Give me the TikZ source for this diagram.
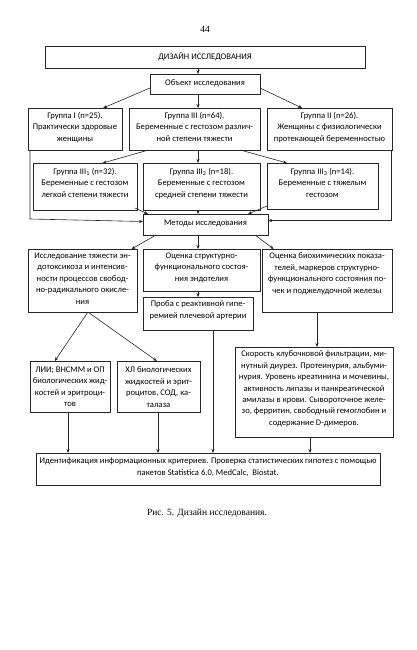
\documentclass[tikz,border=0pt]{standalone}
\usepackage{fontspec}
\setmainfont{Carlito}
\newfontfamily\timesf{Liberation Serif}
\usetikzlibrary{arrows.meta,calc}
\tikzset{
  box/.style={draw=black!85,line width=0.6pt,inner sep=0pt,outer sep=0pt,fill=white},
  txt/.style={inner sep=0pt,outer sep=0pt,align=center,text=black,font=\fontsize{8.6}{11.4}\selectfont},
  arr/.style={draw=black!85,line width=0.6pt,-{Stealth[length=4pt,width=3.2pt]}},
  serift/.style={inner sep=0pt,text=black,font=\timesf\fontsize{9.5}{11}\selectfont}
}
\newcommand\mkbox[7]{%
  \pgfmathsetmacro\bw{#4-#2}\pgfmathsetmacro\bh{#5-#3}%
  \node[box,minimum width=\bw pt,minimum height=\bh pt,anchor=north west] (#1) at (#2,#3) {};
  \node[txt,anchor=north] (#1-txt) at ([yshift=-#6pt]#1.north) {#7};}
\begin{document}
\begin{tikzpicture}[x=1pt,y=-1pt]
\useasboundingbox (0,0) rectangle (417,650);
\node[serift] (pg) at (205,29) {44};
\mkbox{title}{45}{46}{365}{68}{7}{ДИЗАЙН ИССЛЕДОВАНИЯ}
\mkbox{obj}{150}{74}{260}{94}{6}{Объект исследования}
\mkbox{ga}{28}{108}{122}{150}{4}{Группа I (n=25).\\Практически здоровые\\женщины}
\mkbox{gc}{129}{108}{260}{150}{4}{Группа III (n=64).\\Беременные с гестозом различ-\\ной степени тяжести}
\mkbox{gb}{267}{108}{392}{150}{4}{Группа II (n=26).\\Женщины с физиологически\\протекающей беременностью}
\mkbox{gca}{33}{163}{137}{210}{5}{Группа III\textsubscript{1} (n=32).\\Беременные с гестозом\\легкой степени тяжести}
\mkbox{gcb}{143}{163}{260}{210}{5}{Группа III\textsubscript{2} (n=18).\\Беременные с гестозом\\средней степени тяжести}
\mkbox{gcc}{267}{163}{378}{209}{5}{Группа III\textsubscript{3} (n=14).\\Беременные с тяжелым\\гестозом}
\mkbox{met}{143}{214}{268}{235}{6}{Методы исследования}
\mkbox{ma}{28}{249}{137}{312}{4}{Исследование тяжести эн-\\дотоксикоза и интенсив-\\ности процессов свобод-\\но-радикального окисле-\\ния}
\mkbox{mb}{143}{249}{260}{291}{4}{Оценка структурно-\\функционального состоя-\\ния эндотелия}
\mkbox{mc}{262}{249}{392}{312}{4}{Оценка биохимических показа-\\телей, маркеров структурно-\\функционального состояния по-\\чек и поджелудочной железы}
\mkbox{md}{143}{297}{253}{330}{4}{Проба с реактивной гипе-\\ремией плечевой артерии}
\mkbox{me}{30}{361}{110}{412}{6}{ЛИИ; ВНСММ и ОП\\биологических жид-\\костей и эритроци-\\тов}
\mkbox{mf}{117}{361}{200}{412}{6}{ХЛ биологических\\жидкостей и эрит-\\роцитов, СОД, ка-\\талаза}
\mkbox{mg}{235}{347}{393}{437}{4}{Скорость клубочковой фильтрации, ми-\\нутный диурез. Протеинурия, альбуми-\\нурия. Уровень креатинина и мочевины,\\активность липазы и панкреатической\\амилазы в крови. Сывороточное желе-\\зо, ферритин, свободный гемоглобин и\\содержание D-димеров.}
\mkbox{mh}{36}{453}{380}{485}{5}{Идентификация информационных критериев. Проверка статистических гипотез с помощью\\пакетов Statistica 6.0, MedCalc,\ \ Biostat.}
\node[serift] (cap) at (207,513) {Рис. 5. Дизайн исследования.};
% coordinates for vertical lines
\coordinate (cx) at (198,0);
\coordinate (xl) at (30,0);
\coordinate (yl) at (0,219);
\coordinate (xr) at (391,0);
\coordinate (xd) at (213,0);
\coordinate (xe) at (68,0);
\coordinate (xf) at (158,0);
\coordinate (xg) at (310,0);
\coordinate (xc) at (317,0);
% connectors
\draw[arr] (title.south -| cx) -- (obj.north -| cx);
\draw[arr] ([yshift=6pt]obj.south west) -- ($(ga.north west)!0.8!(ga.north east)$);
\draw[arr] (obj.south -| cx) -- (gc.north -| cx);
\draw[arr] ([yshift=6pt]obj.south east) -- ($(gb.north west)!0.28!(gb.north east)$);
\draw[arr] ($(gc.south west)!0.15!(gc.south east)$) -- ($(gca.north west)!0.67!(gca.north east)$);
\draw[arr] (gc.south -| cx) -- (gcb.north -| cx);
\draw[arr] ($(gc.south west)!0.85!(gc.south east)$) -- ($(gcc.north west)!0.18!(gcc.north east)$);
\draw[arr] ([xshift=-2pt,yshift=2pt]gca.south east) -- ([xshift=5pt]met.north west);
\draw[arr] (gcb.south -| cx) -- (met.north -| cx);
\draw[arr] ([yshift=3pt]gcc.south west) -- ([xshift=-20pt]met.north east);
\draw[arr] (ga.south -| xl) -- (xl |- yl) -- ([yshift=3pt]met.west);
\draw[arr] (gb.south -| xr) |- ([yshift=4pt]met.east);
\draw[arr] ([xshift=13pt]met.south west) -- ($(ma.north west)!0.95!(ma.north east)$);
\draw[arr] (met.south -| cx) -- (mb.north -| cx);
\draw[arr] ([xshift=-13pt]met.south east) -- ($(mc.north west)!0.09!(mc.north east)$);
\draw[arr] (mb.south -| cx) -- (md.north -| cx);
\draw[arr] (mc.south -| xc) -- (mg.north -| xc);
\draw[arr] ($(ma.south west)!0.55!(ma.south east)$) -- ($(me.north west)!0.31!(me.north east)$);
\draw[arr] ($(ma.south west)!0.55!(ma.south east)$) -- ($(mf.north west)!0.48!(mf.north east)$);
\draw[arr] (me.south -| xe) -- (mh.north -| xe);
\draw[arr] (mf.south -| xf) -- (mh.north -| xf);
\draw[arr] (md.south -| xd) -- (mh.north -| xd);
\draw[arr] (mg.south -| xg) -- (mh.north -| xg);
\end{tikzpicture}
\end{document}
